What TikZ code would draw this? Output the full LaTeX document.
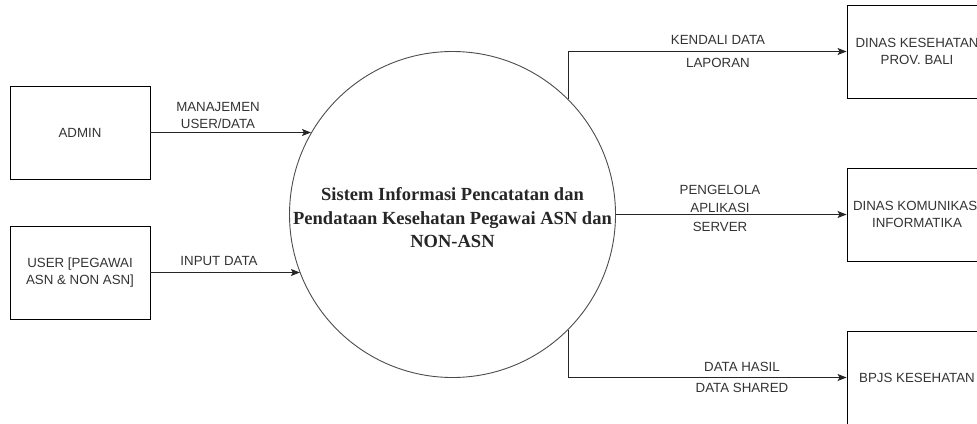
\documentclass[tikz,border=0pt]{standalone}
\usepackage{fontspec}
\setmainfont{Liberation Sans}
\newfontfamily\titlefont{Liberation Serif}
\usetikzlibrary{arrows.meta, positioning}

\begin{document}
\begin{tikzpicture}[x=1pt, y=-1pt,
      font=\fontsize{13.3}{17.5}\selectfont,
      ent/.style={draw, line width=0.9pt, align=center, inner sep=0pt,
                  minimum width=140pt, minimum height=93pt, text=black!80},
      arr/.style={-{Stealth[length=9pt, width=7pt, inset=2pt]},
                  line width=0.9pt, black!85},
      lbl/.style={align=center, inner sep=0pt, text=black!80}]
      \useasboundingbox (0,0) rectangle (977,423);
      \clip (0,0) rectangle (977,423);
      % Proses utama
      \node[circle, draw, black!70, line width=0.9pt, inner sep=0pt,
            minimum size=326pt] (sys) at (452.5,214.5) {};
      \node[align=center, text=black!85,
            font=\titlefont\bfseries\fontsize{18.5}{23.5}\selectfont] (sysname)
        at (452.5,218) {Sistem Informasi Pencatatan dan\\
        Pendataan Kesehatan Pegawai ASN dan\\NON-ASN};
      % Entitas kiri
      \node[ent] (admin) at (80,132.5) {ADMIN};
      \node[ent] (user) at (80,272.5) {USER [PEGAWAI\\ASN \& NON ASN]};
      % Entitas kanan
      \node[ent] (dinkes) at (917,51.5) {DINAS KESEHATAN\\PROV. BALI};
      \node[ent] (kominfo) at (917,214.5) {DINAS KOMUNIKASI\\INFORMATIKA};
      \node[ent] (bpjs) at (917,377.5) {BPJS KESEHATAN};
      % Aliran masuk
      \draw[arr] (admin.east) -- (admin.east -| sys.150);
      \node[lbl] (manajemen) at (218,115.5) {MANAJEMEN\\USER/DATA};
      \draw[arr] (user.east) -- (user.east -| sys.201);
      \node[lbl] (input) at (219,261) {INPUT DATA};
      % Aliran keluar
      \draw[arr] (sys.45) |- (dinkes.west);
      \node[lbl] (kendali) at (718,40) {KENDALI DATA};
      \node[lbl] (laporan) at (718,63) {LAPORAN};
      \draw[arr] (sys.east) -- (kominfo.west);
      \node[lbl, font=\fontsize{13.3}{18.5}\selectfont] (pengelola)
        at (720,208) {PENGELOLA\\APLIKASI\\SERVER};
      \draw[arr] (sys.-45) |- (bpjs.west);
      \node[lbl] (hasil) at (742,367) {DATA HASIL};
      \node[lbl] (shared) at (742,388) {DATA SHARED};
    \end{tikzpicture}
\end{document}
